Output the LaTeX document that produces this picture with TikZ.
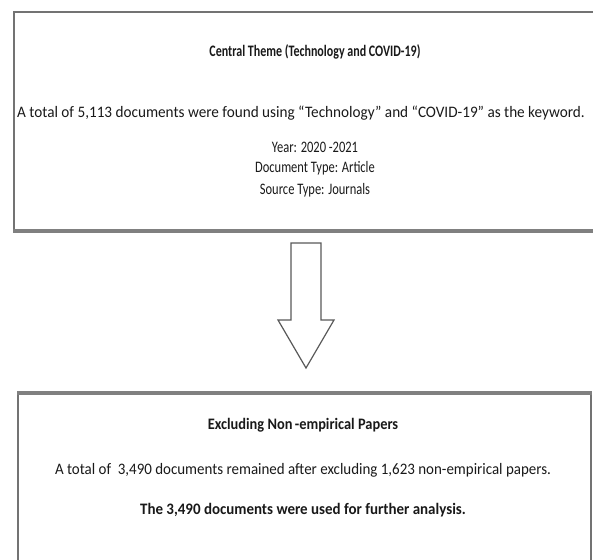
\documentclass[tikz,border=0pt]{standalone}
\usepackage{fontspec}
\usepackage{graphicx}
\setmainfont{Carlito}
\newcommand{\sqz}[2]{\scalebox{#1}[1]{#2}}
\begin{document}
\begin{tikzpicture}[x=1pt,y=-1pt,
  boxline/.style={draw=black!55, line width=1.6pt},
  shadowline/.style={draw=black!50, line width=4pt},
  txt/.style={inner sep=0pt, text=black!90, font=\fontsize{16}{19}\selectfont},
  btxt/.style={txt, font=\fontsize{16}{19}\selectfont\bfseries},
  bigarrow/.style={draw=black!65, line width=1.2pt, fill=white, line join=miter}]
\useasboundingbox (0,0) rectangle (593,559);
\clip (0,0) rectangle (593,559);
% top box
\node[boxline, minimum width=604pt, minimum height=218pt, inner sep=0pt, anchor=north west] (top) at (13,11) {};
\draw[shadowline] (top.south west) -- (top.south east);
\node[btxt] (t1) at (315,52) {\sqz{0.75}{Central Theme (Technology and COVID-19)}};
\node[txt] (t2) at (301,113) {\sqz{0.95}{A total of 5,113 documents were found using “Technology” and “COVID-19” as the keyword.}};
\node[txt] (t3) at (315,147) {\sqz{0.78}{Year: 2020 -2021}};
\node[txt] (t4) at (315,168) {\sqz{0.78}{Document Type: Article}};
\node[txt] (t5) at (315,190) {\sqz{0.78}{Source Type: Journals}};
% arrow
\coordinate (a1) at (291,243);
\coordinate (a2) at (321,243);
\coordinate (a3) at (321,320);
\coordinate (a4) at (334,320);
\coordinate (a5) at (306,368);
\coordinate (a6) at (278,320);
\coordinate (a7) at (291,320);
\draw[bigarrow] (a1) -- (a2) -- (a3) -- (a4) -- (a5) -- (a6) -- (a7) -- cycle;
% bottom box
\node[boxline, minimum width=573pt, minimum height=190pt, inner sep=0pt, anchor=north west] (bot) at (17,393) {};
\draw[shadowline] (bot.north west) -- (bot.north east);
\node[btxt] (b1) at (303,425) {\sqz{0.9}{Excluding Non\,-empirical Papers}};
\node[txt] (b2) at (303,470) {\sqz{0.935}{A total of~ 3,490 documents remained after excluding 1,623 non-empirical papers.}};
\node[btxt] (b3) at (303,510) {\sqz{0.935}{The 3,490 documents were used for further analysis.}};
\end{tikzpicture}
\end{document}
